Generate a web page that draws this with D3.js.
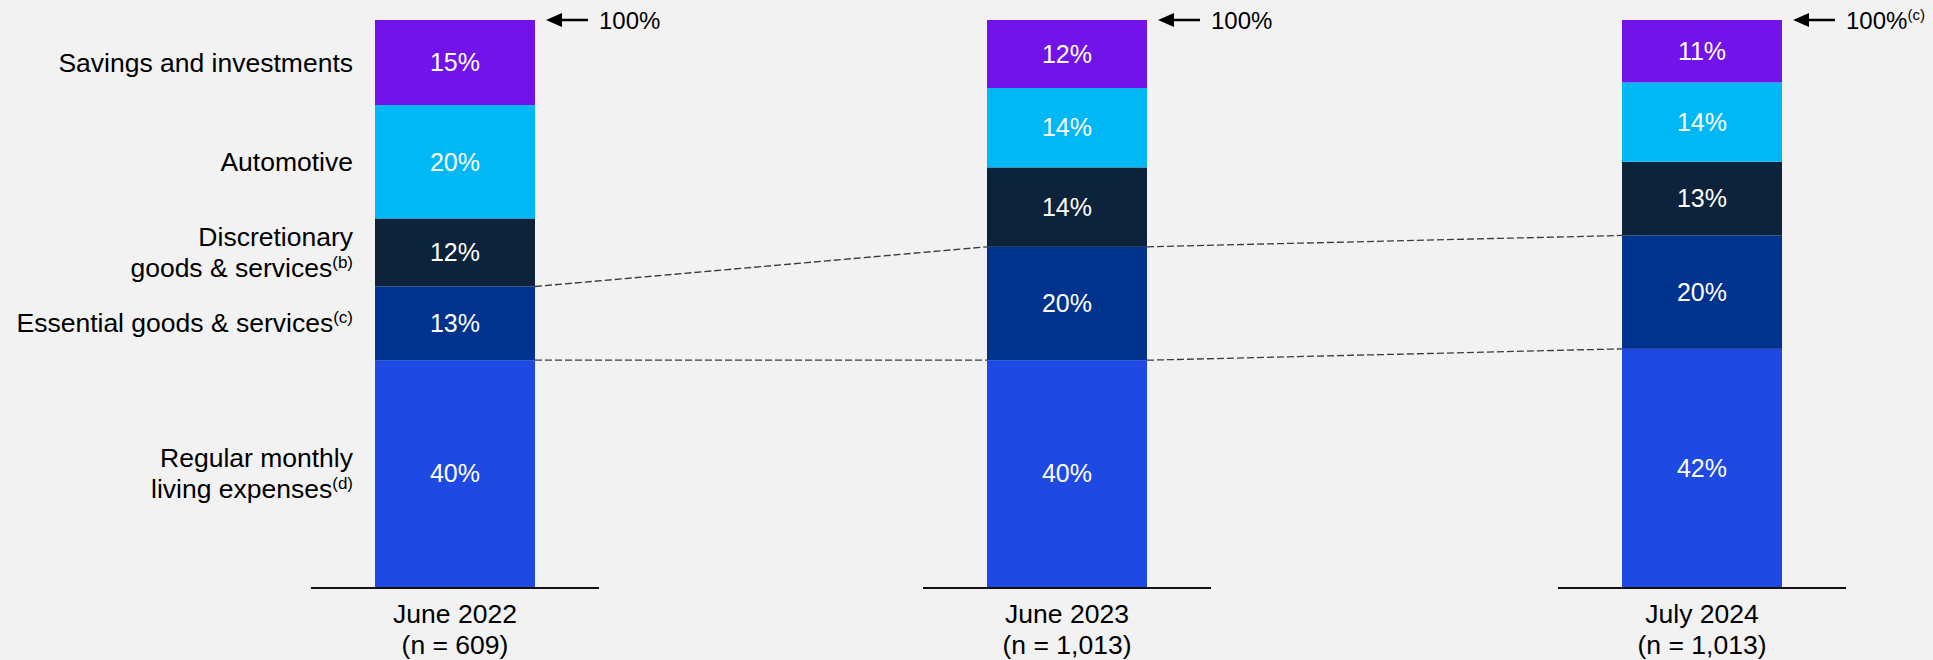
<!DOCTYPE html>
<html>
<head>
<meta charset="utf-8">
<script src="https://cdn.jsdelivr.net/npm/d3@7"></script>
<style>
  html, body { margin: 0; padding: 0; background: #F2F2F2; }
  svg { display: block; font-family: "Liberation Sans", Arial, sans-serif; }
</style>
</head>
<body>
<svg id="chart" width="1933" height="660"></svg>
<script>
// Survey periods (bottom labels)
const periods = ["June 2022", "June 2023", "July 2024"];
const sampleSizes = ["(n = 609)", "(n = 1,013)", "(n = 1,013)"];
const totalNotes = ["", "", "(c)"];

// Spending categories, stacked bottom to top
const categories = ["Regular monthly living expenses", "Essential goods & services",
  "Discretionary goods & services", "Automotive", "Savings and investments"];
// Category label lines: [text, superscript]
const categoryLines = [
  [["Regular monthly", ""], ["living expenses", "(d)"]],
  [["Essential goods & services", "(c)"]],
  [["Discretionary", ""], ["goods & services", "(b)"]],
  [["Automotive", ""]],
  [["Savings and investments", ""]]
];

// Share of spending (%) per category, one value per period
const regular       = [40, 40, 42];
const essential     = [13, 20, 20];
const discretionary = [12, 14, 13];
const automotive    = [20, 14, 14];
const savings       = [15, 12, 11];

const colors = ["#1E49E2", "#00338D", "#0C233B", "#00B8F5", "#7213EA"];

const series = [regular, essential, discretionary, automotive, savings];
const rows = periods.map((p, i) => {
  const r = { period: p };
  categories.forEach((c, k) => { r[c] = series[k][i]; });
  return r;
});
const stacked = d3.stack().keys(categories)(rows);

const svg = d3.select("#chart");
const barW = 160;
const x = d3.scaleOrdinal().domain(periods).range([455, 1067, 1702]);
const y = d3.scaleLinear().domain([0, 100]).range([587, 20]);

// Baseline segments under each bar
svg.append("g").selectAll("line").data(periods).join("line")
  .attr("x1", d => x(d) - barW / 2 - 64)
  .attr("x2", d => x(d) + barW / 2 + 64)
  .attr("y1", y(0) + 1).attr("y2", y(0) + 1)
  .attr("stroke", "#111").attr("stroke-width", 2);

// Stacked bars
const layers = svg.append("g").selectAll("g").data(stacked).join("g")
  .attr("fill", (d, i) => colors[i]);
layers.selectAll("rect").data(d => d).join("rect")
  .attr("x", d => x(d.data.period) - barW / 2)
  .attr("width", barW)
  .attr("y", d => y(d[1]))
  .attr("height", d => y(d[0]) - y(d[1]));

// Value labels inside segments
layers.selectAll("text").data(d => d).join("text")
  .attr("x", d => x(d.data.period))
  .attr("y", d => (y(d[0]) + y(d[1])) / 2)
  .attr("dy", "0.35em")
  .attr("text-anchor", "middle")
  .attr("fill", "#fff")
  .attr("font-size", 25)
  .text(d => (d[1] - d[0]) + "%");

// Dashed connectors at the tops of the two essential tiers
const connectLevels = [stacked[0], stacked[1]];
connectLevels.forEach(layer => {
  for (let i = 0; i < periods.length - 1; i++) {
    const a = layer[i], b = layer[i + 1];
    svg.append("line")
      .attr("x1", x(periods[i]) + barW / 2).attr("y1", y(a[1]))
      .attr("x2", x(periods[i + 1]) - barW / 2).attr("y2", y(b[1]))
      .attr("stroke", "#3a3a3a").attr("stroke-width", 1.3)
      .attr("stroke-dasharray", "7,3");
  }
});

// 100% markers with arrows
const totals = svg.append("g");
periods.forEach((p, i) => {
  const xr = x(p) + barW / 2;
  const yt = y(100);
  totals.append("path")
    .attr("d", `M${xr + 11},${yt} L${xr + 27},${yt - 7} L${xr + 27},${yt + 7} Z`)
    .attr("fill", "#000");
  totals.append("line")
    .attr("x1", xr + 25).attr("x2", xr + 53)
    .attr("y1", yt).attr("y2", yt)
    .attr("stroke", "#000").attr("stroke-width", 2.5);
  const t = totals.append("text")
    .attr("x", xr + 64).attr("y", yt + 9)
    .attr("font-size", 24).attr("fill", "#000");
  t.append("tspan").text("100%");
  if (totalNotes[i]) {
    t.append("tspan").attr("font-size", 15).attr("dy", -9).text(totalNotes[i]);
  }
});

// Period labels under the baseline
const xl = svg.append("g").attr("font-size", 26.5).attr("text-anchor", "middle").attr("fill", "#000");
periods.forEach((p, i) => {
  xl.append("text").attr("x", x(p)).attr("y", 623).text(p);
  xl.append("text").attr("x", x(p)).attr("y", 654).text(sampleSizes[i]);
});

// Category labels beside the first bar
const yl = svg.append("g").attr("font-size", 26.5).attr("text-anchor", "end").attr("fill", "#000");
stacked.forEach((layer, k) => {
  const seg = layer[0];
  const cy = (y(seg[0]) + y(seg[1])) / 2;
  const lines = categoryLines[k];
  const lh = 31;
  lines.forEach((ln, j) => {
    const base = cy + (j - (lines.length - 1) / 2) * lh + 9;
    const t = yl.append("text").attr("x", 353).attr("y", base);
    t.append("tspan").text(ln[0]);
    if (ln[1]) t.append("tspan").attr("font-size", 17).attr("dy", -9).text(ln[1]);
  });
});
</script>
</body>
</html>
